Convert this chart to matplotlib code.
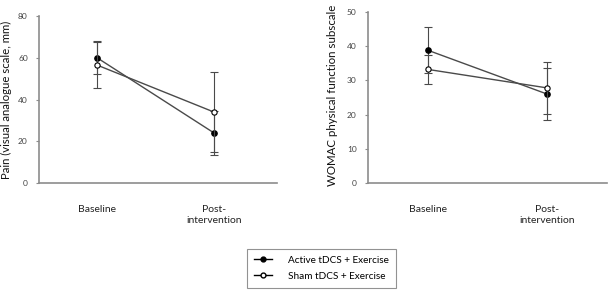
import matplotlib
matplotlib.use("Agg")
import matplotlib.pyplot as plt
from matplotlib.lines import Line2D

plt.rcParams['font.family'] = ['Lato', 'DejaVu Sans']

categories = ["Baseline", "Post-\nintervention"]
series_names = ["Active tDCS + Exercise", "Sham tDCS + Exercise"]

pain_active = [60.0, 24.0]
pain_active_err = [8.0, 10.5]
pain_sham = [56.5, 34.0]
pain_sham_err = [11.0, 19.0]

womac_active = [38.8, 26.0]
womac_active_err = [6.7, 7.5]
womac_sham = [33.2, 27.8]
womac_sham_err = [4.3, 7.5]

fig = plt.figure(figsize=(6.09, 2.91), dpi=100)

axL = fig.add_axes([0.064, 0.371, 0.391, 0.574])
axR = fig.add_axes([0.604, 0.371, 0.393, 0.588])

line_col = "#4a4a4a"
axis_col = "#8c8c8c"

def draw(ax, act, act_e, sham, sham_e, ymax, step, ylabel, xlim, ylab_x, ylab_y, ylab_size):
    x = list(range(len(categories)))
    ax.errorbar(x, act, yerr=act_e, color=line_col, lw=1.0, marker='o', ms=3.8,
                mfc='black', mec='black', capsize=3, elinewidth=0.8, capthick=0.8, zorder=3)
    ax.errorbar(x, sham, yerr=sham_e, color=line_col, lw=1.0, marker='o', ms=3.8,
                mfc='white', mec='black', mew=0.8, capsize=3, elinewidth=0.8, capthick=0.8, zorder=4)
    ax.set_xlim(*xlim)
    ax.set_ylim(0, ymax)
    ax.set_yticks(list(range(0, ymax + 1, step)))
    ax.set_xticks(x)
    ax.set_xticklabels(categories, fontsize=7.5, color="#222222", linespacing=1.2)
    ax.tick_params(axis='x', length=0, pad=16)
    ax.tick_params(axis='y', labelsize=6, colors=axis_col, labelcolor="#444444", length=2, width=0.8, pad=6)
    for s in ['top', 'right']:
        ax.spines[s].set_visible(False)
    for s in ['left', 'bottom']:
        ax.spines[s].set_color(axis_col)
        ax.spines[s].set_linewidth(1.2)
    ax.set_ylabel(ylabel, fontsize=ylab_size, color="#111111")
    ax.yaxis.set_label_coords(ylab_x, ylab_y)

draw(axL, pain_active, pain_active_err, pain_sham, pain_sham_err, 80, 20,
     "Pain (visual analogue scale, mm)", (-0.497, 1.540), -0.112, 0.5, 8.2)
draw(axR, womac_active, womac_active_err, womac_sham, womac_sham_err, 50, 10,
     "WOMAC physical function subscale", (-0.504, 1.504), -0.126, 0.515, 8.3)

handles = [
    Line2D([0], [0], color='black', lw=1.0, marker='o', ms=3.5, mfc='black', mec='black'),
    Line2D([0], [0], color='black', lw=1.0, marker='o', ms=3.5, mfc='white', mec='black'),
]
leg = fig.legend(handles, series_names, loc='center', bbox_to_anchor=(0.528, 0.079),
                 fontsize=7.2, frameon=True, fancybox=False, edgecolor="#777777",
                 handlelength=1.8, borderpad=0.7, labelspacing=0.7, handletextpad=1.6)
leg.get_frame().set_linewidth(0.8)

fig.savefig("out.png", dpi=100)
